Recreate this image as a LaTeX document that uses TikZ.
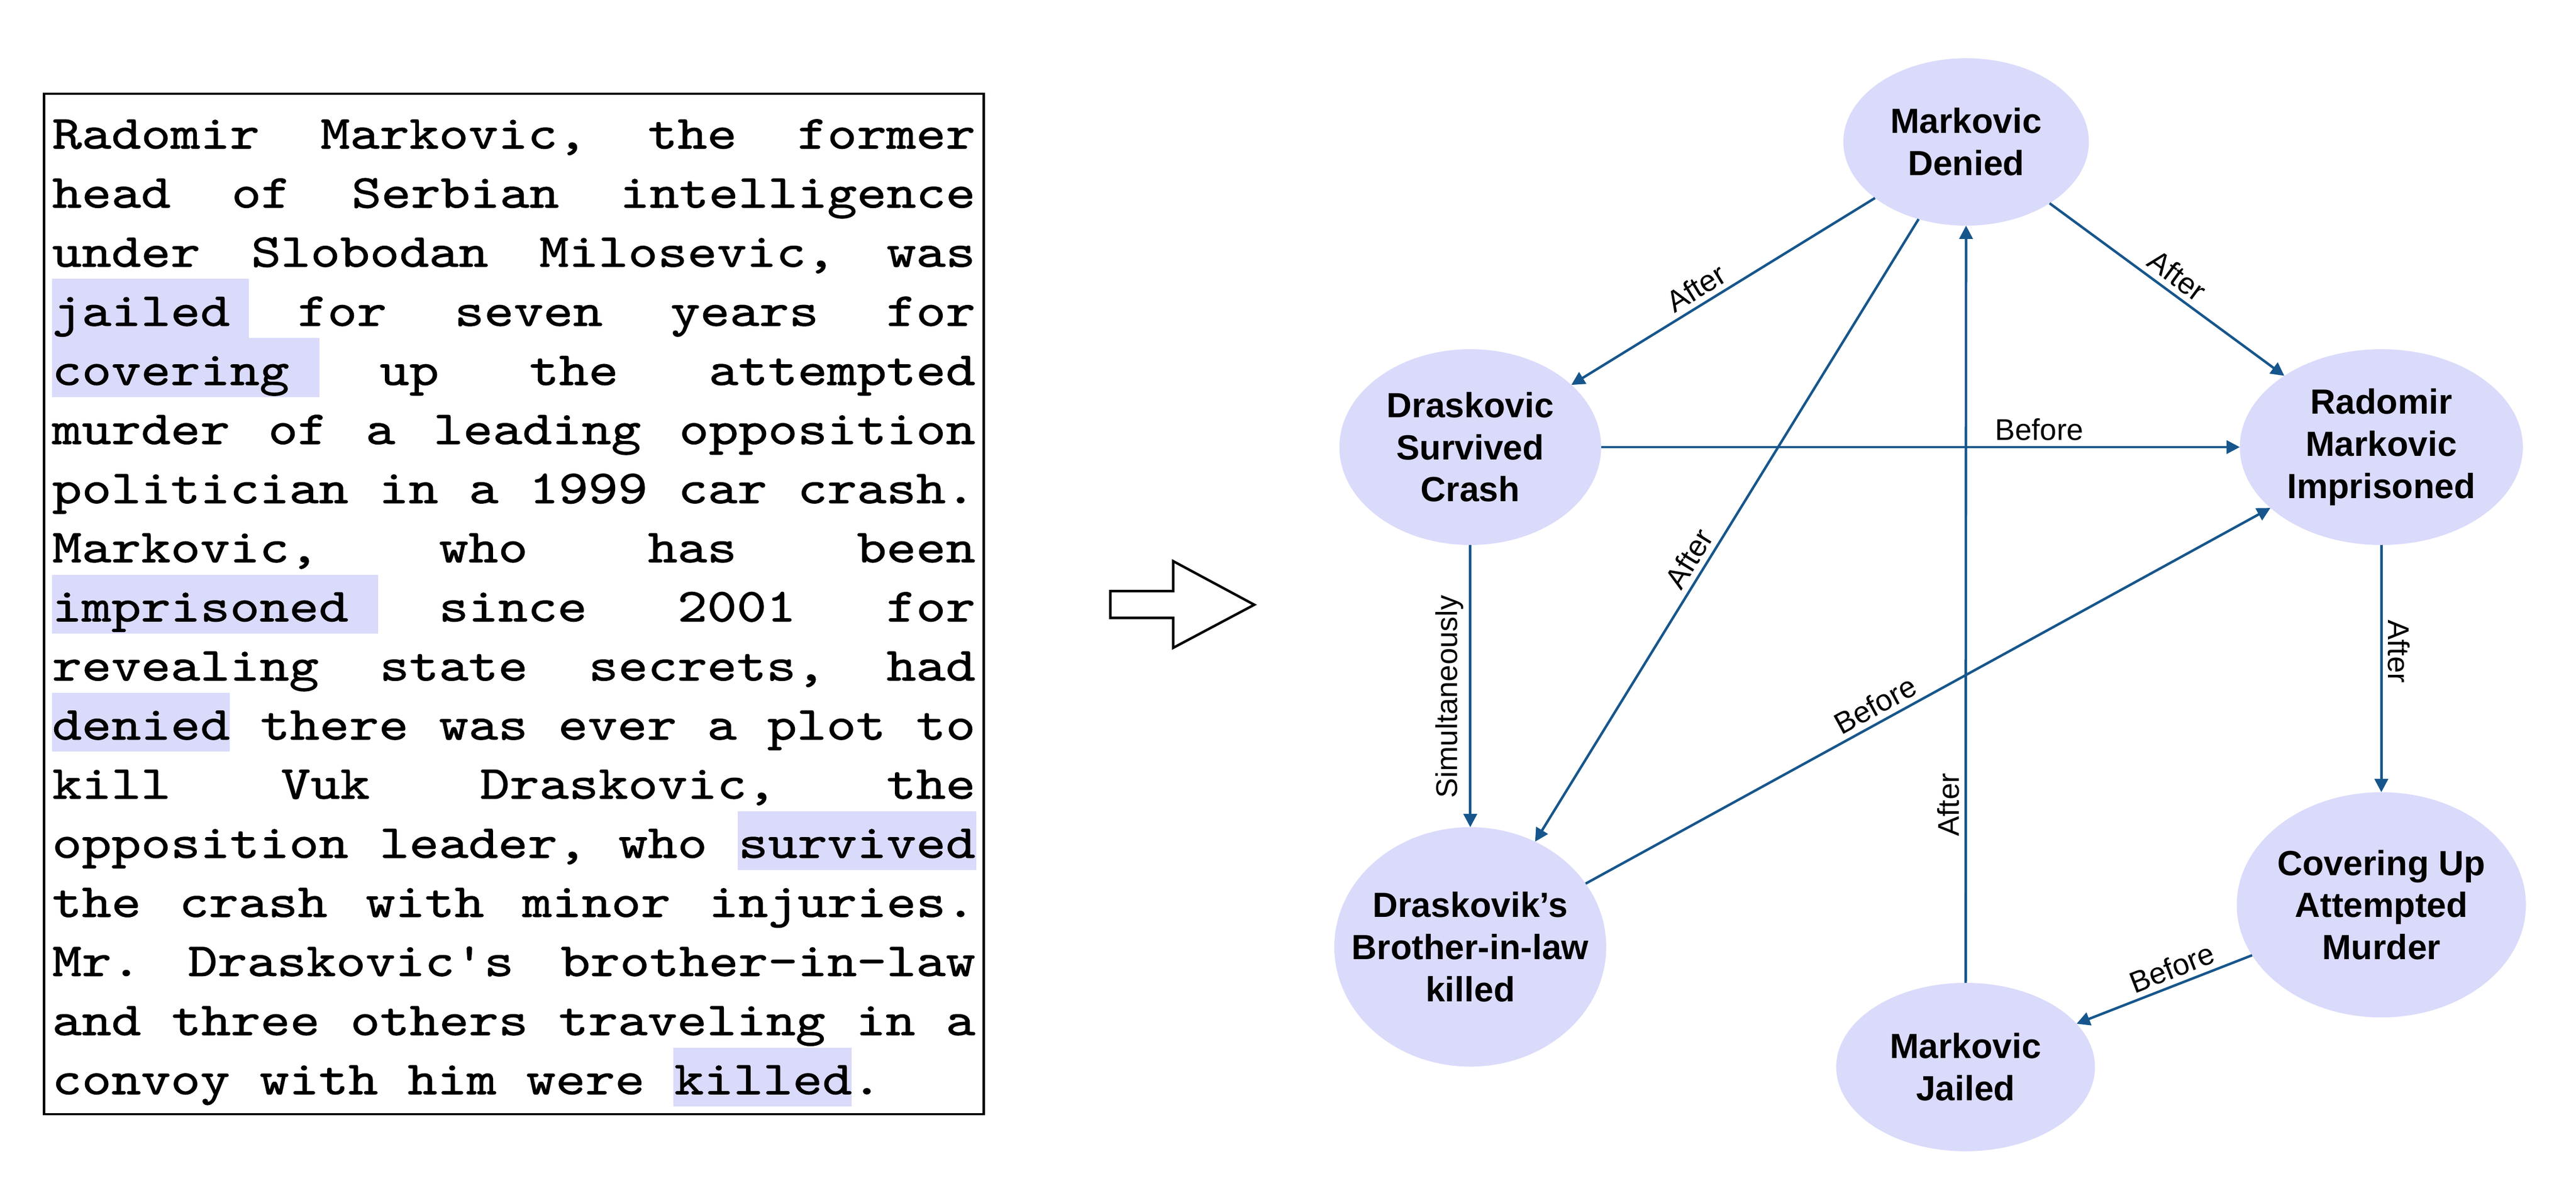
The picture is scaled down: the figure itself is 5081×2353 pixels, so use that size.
\documentclass[tikz,border=0pt]{standalone}
\usepackage{fontspec}
\setmainfont{Liberation Sans}
\newfontfamily\monof[FakeStretch=1.192,FakeBold=1.2]{lmmono10-regular.otf}
\newfontfamily\sansf{Liberation Sans}
\usetikzlibrary{arrows.meta,shapes.geometric}
\definecolor{lav}{RGB}{218,218,251}
\definecolor{edgec}{RGB}{22,86,140}
\newlength\tw
\setlength\tw{18.20cm}
\newcommand\jl[1]{\hbox to \tw{\frenchspacing\spaceskip=0.584cm plus 1fil\relax #1}}
\newcommand\nl[1]{\hbox{\frenchspacing\spaceskip=0.584cm\relax #1}}
\tikzset{
  ml/.style={anchor=base west, inner sep=0pt, outer sep=0pt,
    font=\monof\fontsize{26.55pt}{33pt}\selectfont},
  ev/.style={ellipse, fill=lav, draw=none, inner sep=0pt, outer sep=0pt},
  evt/.style={font=\sansf\bfseries\fontsize{19.6pt}{23.6pt}\selectfont, align=center, inner sep=0pt},
  lab/.style={font=\sansf\fontsize{16.8pt}{20pt}\selectfont, text=black, inner sep=3pt},
  edge/.style={draw=edgec, line width=1.4pt, -{Triangle[length=7.5pt,width=7.5pt]}},
  hl/.style={fill=lav, draw=none}
}
\begin{document}
\begin{tikzpicture}[x=0.01cm,y=-0.01cm]
\useasboundingbox (0,0) rectangle (5081,2353);
% highlights
\fill[hl] (103,550) rectangle (491,667);
\fill[hl] (103,667) rectangle (630,783);
\fill[hl] (103,1134) rectangle (746,1250);
\fill[hl] (103,1367) rectangle (453,1483);
\fill[hl] (1455,1600) rectangle (1926,1716);
\fill[hl] (1328,2067) rectangle (1680,2183);
% text box
\draw[line width=1.4pt] (87,185) rectangle (1940,2198);
\node[ml] (l1) at (103,293.0) {\jl{Radomir Markovic, the former}};
\node[ml] (l2) at (103,409.6) {\jl{head of Serbian intelligence}};
\node[ml] (l3) at (103,526.2) {\jl{under Slobodan Milosevic, was}};
\node[ml] (l4) at (103,642.8) {\jl{jailed for seven years for}};
\node[ml] (l5) at (103,759.4) {\jl{covering up the attempted}};
\node[ml] (l6) at (103,876.0) {\jl{murder of a leading opposition}};
\node[ml] (l7) at (103,992.6) {\jl{politician in a 1999 car crash.}};
\node[ml] (l8) at (103,1109.2) {\jl{Markovic, who has been}};
\node[ml] (l9) at (103,1225.8) {\jl{imprisoned since 2001 for}};
\node[ml] (l10) at (103,1342.4) {\jl{revealing state secrets, had}};
\node[ml] (l11) at (103,1459.0) {\jl{denied there was ever a plot to}};
\node[ml] (l12) at (103,1575.6) {\jl{kill Vuk Draskovic, the}};
\node[ml] (l13) at (103,1692.2) {\jl{opposition leader, who survived}};
\node[ml] (l14) at (103,1808.8) {\jl{the crash with minor injuries.}};
\node[ml] (l15) at (103,1925.4) {\jl{Mr. Draskovic{\char39}s brother-in-law}};
\node[ml] (l16) at (103,2042.0) {\jl{and three others traveling in a}};
\node[ml] (l17) at (103,2158.6) {\nl{convoy with him were killed.}};
% hollow arrow
\draw[line width=1.4pt, line join=miter] (2190,1166) -- (2314,1166) -- (2314,1107) -- (2474,1193) -- (2314,1278) -- (2314,1219) -- (2190,1219) -- cycle;
% event nodes
\node[ev, minimum width=4.84cm, minimum height=3.30cm] (den) at (3878,280) {};
\node[ev, minimum width=5.16cm, minimum height=3.86cm] (sur) at (2900,882) {};
\node[ev, minimum width=5.58cm, minimum height=3.86cm] (imp) at (4697,882) {};
\node[ev, minimum width=5.36cm, minimum height=4.72cm] (kil) at (2900,1868) {};
\node[ev, minimum width=5.70cm, minimum height=4.44cm] (cov) at (4697,1785) {};
\node[ev, minimum width=5.10cm, minimum height=3.32cm] (jai) at (3877,2105) {};
\node[evt] (dent) at (den) {Markovic\\Denied};
\node[evt] (surt) at (sur) {Draskovic\\Survived\\Crash};
\node[evt] (impt) at (imp) {Radomir\\Markovic\\Imprisoned};
\node[evt] (kilt) at (kil) {Draskovik’s\\Brother-in-law\\killed};
\node[evt] (covt) at (cov) {Covering Up\\Attempted\\Murder};
\node[evt] (jait) at (jai) {Markovic\\Jailed};
% edges
\draw[edge] (den) -- node[lab, pos=0.56, sloped, above] {After} (sur);
\draw[edge] (den) -- node[lab, pos=0.56, sloped, above] {After} (kil);
\draw[edge] (den) -- node[lab, pos=0.5, sloped, above] {After} (imp);
\draw[edge] (sur) -- node[lab, pos=0.686, above] {Before} (imp);
\draw[edge] (sur) -- node[lab, pos=0.537, rotate=90, anchor=south] {Simultaneously} (kil);
\draw[edge] (kil) -- node[lab, pos=0.435, sloped, above] {Before} (imp);
\draw[edge] (jai) -- node[lab, pos=0.235, rotate=90, anchor=south] {After} (den);
\draw[edge] (imp) -- node[lab, pos=0.43, rotate=-90, anchor=south] {After} (cov);
\draw[edge] (cov) -- node[lab, pos=0.42, sloped, above] {Before} (jai);
\end{tikzpicture}
\end{document}
